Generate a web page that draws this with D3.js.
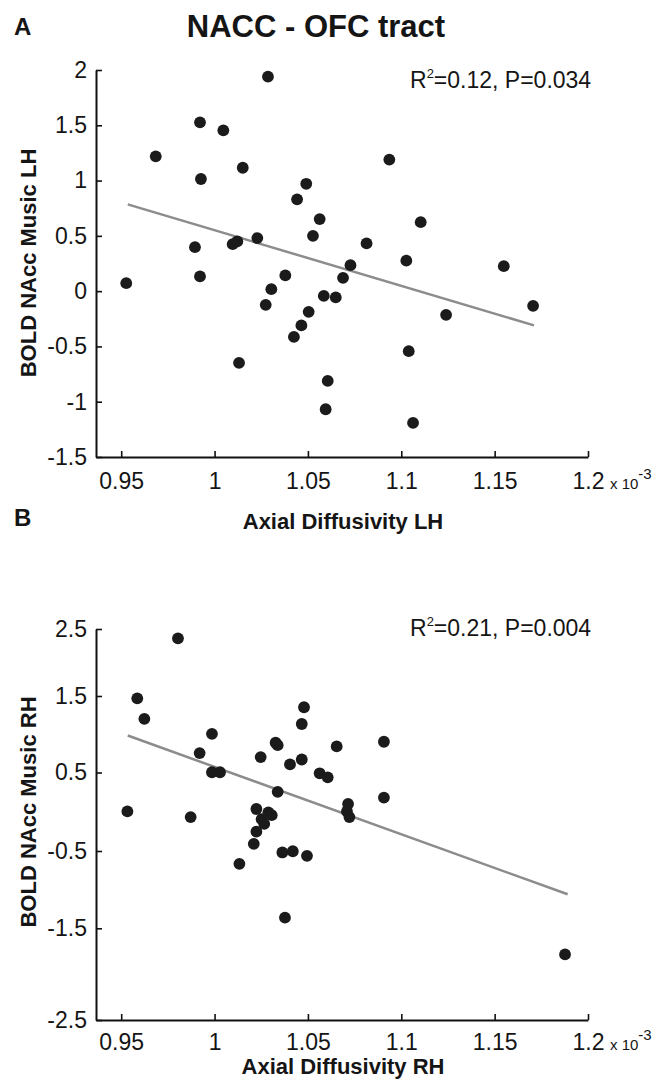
<!DOCTYPE html>
<html>
<head>
<meta charset="utf-8">
<script src="https://cdn.jsdelivr.net/npm/d3@7"></script>
<style>
  body { margin: 0; background: #fff; }
  svg text { font-family: "Liberation Sans", Arial, sans-serif; fill: #151515; }
</style>
</head>
<body>
<div id="chart"></div>
<script>
// panel A - left hemisphere (axial diffusivity x1e-3, BOLD)
var lhX = [1.0286, 0.9922, 1.0047, 0.9685, 1.0936, 1.0151, 0.9927, 1.0491, 1.0442, 1.1104,
           1.0563, 1.0527, 1.0229, 0.9895, 1.0097, 1.0122, 1.0814, 1.0728, 1.1027, 1.1549,
           0.9527, 0.9922, 1.0379, 1.0688, 1.0304, 1.0274, 1.0585, 1.0649, 1.0504, 1.0465,
           1.0425, 1.0131, 1.0606, 1.0595, 1.1240, 1.1706, 1.1040, 1.1063];
var lhY = [1.94, 1.527, 1.454, 1.219, 1.190, 1.116, 1.014, 0.971, 0.830, 0.624,
           0.652, 0.500, 0.480, 0.398, 0.425, 0.450, 0.432, 0.235, 0.276, 0.226,
           0.072, 0.133, 0.142, 0.120, 0.018, -0.124, -0.043, -0.057, -0.187, -0.310,
           -0.414, -0.649, -0.812, -1.068, -0.214, -0.133, -0.543, -1.192];
var lhFitX = [0.9535, 1.1711];
var lhFitY = [0.785, -0.310];
var lhTicks = [-1.5, -1, -0.5, 0, 0.5, 1, 1.5, 2];

// panel B - right hemisphere
var rhX = [0.9804, 0.9586, 0.9624, 0.9986, 0.9920, 0.9986, 1.0029, 1.0247, 1.0327, 1.0338,
           1.0479, 1.0467, 1.0654, 1.0907, 1.0467, 1.0404, 1.0563, 1.0606, 0.9533, 0.9872,
           1.0338, 1.0224, 1.0288, 1.0306, 1.0252, 1.0266, 1.0224, 1.0210, 1.0715, 1.0709,
           1.0722, 1.0907, 1.0363, 1.0419, 1.0495, 1.0133, 1.0377, 1.1877];
var rhY = [2.361, 1.469, 1.202, 1.005, 0.754, 0.503, 0.503, 0.702, 0.889, 0.857,
           1.353, 1.134, 0.841, 0.902, 0.670, 0.606, 0.490, 0.438, 0.004, -0.068,
           0.254, 0.035, -0.009, -0.043, -0.094, -0.155, -0.254, -0.409, 0.099, 0.004,
           -0.068, 0.180, -0.519, -0.503, -0.563, -0.666, -1.362, -1.785];
var rhFitX = [0.9535, 1.1891];
var rhFitY = [0.983, -1.060];
var rhTicks = [-2.5, -1.5, -0.5, 0.5, 1.5, 2.5];

var xTicks = [0.95, 1, 1.05, 1.1, 1.15, 1.2];

var svg = d3.select("#chart").append("svg")
    .attr("width", 660)
    .attr("height", 1080);

var x = d3.scaleLinear().domain([0.9365, 1.2]).range([96, 588]);

function drawPanel(p) {
  // the printed figure's B axis is unevenly spaced, so the scale may be piecewise
  var y = d3.scaleLinear().domain(p.yDomain).range(p.yRange);
  var yBottom = d3.max(p.yRange);
  var g = svg.append("g");

  // x axis
  var xa = g.append("g")
      .attr("transform", "translate(0," + yBottom + ")")
      .call(d3.axisBottom(x).tickValues(xTicks).tickSizeInner(-6).tickSizeOuter(0)
        .tickPadding(p.xPad).tickFormat(function(d) { return String(d); }));
  // y axis
  var ya = g.append("g")
      .attr("transform", "translate(96,0)")
      .call(d3.axisLeft(y).tickValues(p.yTicks).tickSizeInner(-6).tickSizeOuter(0)
        .tickPadding(9).tickFormat(function(d) { return String(d); }));

  [xa, ya].forEach(function(a) {
    a.select(".domain").attr("stroke", "#111").attr("stroke-width", 2);
    a.selectAll(".tick line").attr("stroke", "#111").attr("stroke-width", 1.6);
    a.selectAll(".tick text").attr("font-size", 23).attr("fill", "#151515")
      .style("font-family", '"Liberation Sans", Arial, sans-serif');
  });

  // fit line
  g.append("line")
      .attr("x1", x(p.fitX[0])).attr("y1", y(p.fitY[0]))
      .attr("x2", x(p.fitX[1])).attr("y2", y(p.fitY[1]))
      .attr("stroke", "#8c8c8c")
      .attr("stroke-width", 2.5);

  // subjects
  g.selectAll("circle.pt")
      .data(p.xs.map(function(v, i) { return {x: v, y: p.ys[i]}; }))
      .enter().append("circle")
      .attr("class", "pt")
      .attr("cx", function(d) { return x(d.x); })
      .attr("cy", function(d) { return y(d.y); })
      .attr("r", 5.9)
      .attr("fill", "#1b1b1b");

  // stats
  var st = g.append("text")
      .attr("x", 410).attr("y", p.statY)
      .attr("font-size", 23);
  st.append("tspan").text("R");
  st.append("tspan").attr("font-size", 13).attr("dy", -10).text("2");
  st.append("tspan").attr("dy", 10).text(p.stat);

  // x 10^-3
  var ex = g.append("text")
      .attr("x", 610).attr("y", yBottom + p.xPad + 16)
      .attr("font-size", 15);
  ex.append("tspan").text("x 10");
  ex.append("tspan").attr("dy", -10).text("-3");

  // axis titles
  g.append("text")
      .attr("x", 343).attr("y", p.xTitleY)
      .attr("text-anchor", "middle")
      .attr("font-size", 22).attr("font-weight", "bold")
      .text(p.xTitle);

  g.append("text")
      .attr("transform", "translate(36," + p.yTitleMid + ") rotate(-90)")
      .attr("text-anchor", "middle")
      .attr("font-size", 22).attr("font-weight", "bold")
      .text(p.yTitle);

  g.append("text")
      .attr("x", 14).attr("y", p.letterY)
      .attr("font-size", 24).attr("font-weight", "bold")
      .text(p.letter);
}

svg.append("text")
    .attr("x", 316).attr("y", 37)
    .attr("text-anchor", "middle")
    .attr("font-size", 31).attr("font-weight", "bold")
    .text("NACC - OFC tract");

drawPanel({
  xs: lhX, ys: lhY, fitX: lhFitX, fitY: lhFitY,
  yDomain: [-1.5, 2], yRange: [457, 70], yTicks: lhTicks, xPad: 16,
  stat: "=0.12, P=0.034", statY: 88,
  xTitle: "Axial Diffusivity LH", xTitleY: 529,
  yTitle: "BOLD NAcc Music LH", yTitleMid: 263,
  letter: "A", letterY: 35
});

drawPanel({
  xs: rhX, ys: rhY, fitX: rhFitX, fitY: rhFitY,
  yDomain: [-2.5, -1.5, -0.5, 0.5, 1.5, 2.5],
  yRange: [1020, 928.3, 851, 772.5, 696, 629], yTicks: rhTicks, xPad: 14,
  stat: "=0.21, P=0.004", statY: 636,
  xTitle: "Axial Diffusivity RH", xTitleY: 1074,
  yTitle: "BOLD NAcc Music RH", yTitleMid: 812,
  letter: "B", letterY: 526
});
</script>
</body>
</html>
